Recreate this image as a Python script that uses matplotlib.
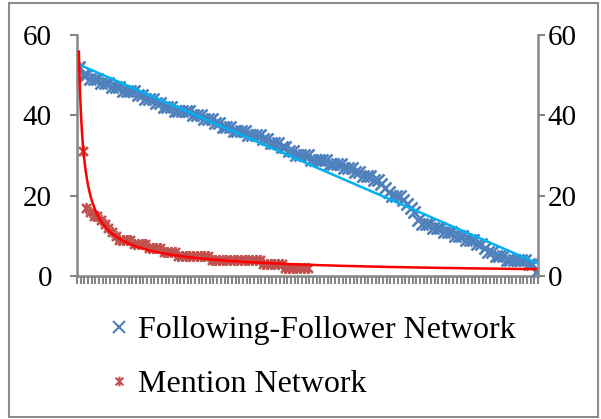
import numpy as np
import matplotlib.pyplot as plt
from matplotlib.path import Path
from matplotlib.patches import Rectangle
from matplotlib.lines import Line2D

plt.rcParams['font.family'] = ['Liberation Serif', 'DejaVu Serif']

# users ranked by degree, value per rank
following = [52, 50, 50, 49, 49, 49, 48, 48, 48, 47, 47, 47, 46, 46, 46, 46, 45, 45, 44, 44,
             44, 43, 43, 42, 42, 42, 41, 41, 41, 41, 41, 40, 40, 40, 39, 39, 39, 38, 38, 37,
             37, 37, 36, 36, 36, 36, 35, 35, 35, 35, 34, 34, 33, 33, 33, 32, 32, 31, 31, 30,
             30, 30, 30, 29, 29, 29, 29, 29, 28, 28, 28, 28, 27, 27, 27, 26, 26, 25, 25, 25,
             24, 24, 23, 22, 21, 20, 20, 20, 19, 18, 17, 16, 14, 13, 13, 13, 12, 12, 12, 11,
             11, 11, 10, 10, 10, 9, 9, 9, 8, 8, 7, 6, 6, 5, 5, 5, 4, 4, 4, 4,
             4, 4, 3, 3, 1]
mention = [52, 31, 17, 16, 15, 15, 14, 13, 12, 11, 10, 9, 9, 9, 9, 8, 8, 8, 8, 7,
           7, 7, 7, 6, 6, 6, 6, 5, 5, 5, 5, 5, 5, 5, 5, 5, 4, 4, 4, 4,
           4, 4, 4, 4, 4, 4, 4, 4, 4, 4, 3, 3, 3, 3, 3, 3, 2, 2, 2, 2,
           2, 2, 2]
labels = ['Following-Follower Network', 'Mention Network']
yticks = [0, 20, 40, 60]

blue = '#4F81BD'
red = '#C0504D'
axis_grey = '#868686'

# asterisk marker: an x with a vertical stroke
star = Path([(-1, -1), (1, 1), (-1, 1), (1, -1), (0, -1.25), (0, 1.25)],
            [Path.MOVETO, Path.LINETO, Path.MOVETO, Path.LINETO, Path.MOVETO, Path.LINETO])

n = len(following)
xf = np.arange(1, n + 1)
xm = np.arange(1, len(mention) + 1)

# trendlines: linear for following, power for mention
k, b = np.polyfit(xf, following, 1)
pb, pa = np.polyfit(np.log(xm), np.log(mention), 1)
xt = np.linspace(1, n, 400)

fig = plt.figure(figsize=(6.01, 4.19), dpi=100)
ax = fig.add_axes([0.1281, 0.3413, 0.7671, 0.5752])

ax.plot(xm, mention, ls='none', marker=star, ms=8, mew=1.9, color=red, zorder=2)
ax.plot(xf, following, ls='none', marker='x', ms=8, mew=1.9, color=blue, zorder=3)
ax.plot(xt, k * xt + b, color='#00B0F0', lw=1.8, zorder=4)
ax.plot(xt, np.exp(pa) * xt ** pb, color='#FF0000', lw=1.8, zorder=4)

ax.set_xlim(0.5, n + 0.5)
ax.set_ylim(0, 60)
ax.set_yticks(yticks)
ax.set_xticks(np.arange(0.5, n + 1, 1))
ax.set_xticklabels([])

for s in ['top', 'right']:
    ax.spines[s].set_visible(False)
for s in ['left', 'bottom']:
    ax.spines[s].set_color(axis_grey)
    ax.spines[s].set_linewidth(1.8)
ax.tick_params(axis='x', length=6, width=1.5, color=axis_grey)
ax.tick_params(axis='y', length=5, width=1.5, color=axis_grey, labelsize=21, pad=13)

ax2 = ax.twinx()
ax2.set_ylim(0, 60)
ax2.set_yticks(yticks)
for s in ['top', 'left', 'bottom']:
    ax2.spines[s].set_visible(False)
ax2.spines['right'].set_color(axis_grey)
ax2.spines['right'].set_linewidth(1.8)
ax2.tick_params(axis='y', length=5, width=1.5, color=axis_grey, labelsize=21, pad=2)

handles = [Line2D([], [], ls='none', marker='x', ms=8, mew=1.5, color=blue),
           Line2D([], [], ls='none', marker=star, ms=7, mew=1.5, color=red)]
fig.legend(handles, labels, loc='upper left', bbox_to_anchor=(0.155, 0.284),
           frameon=False, fontsize=23, handlelength=0.6, handletextpad=0.3,
           labelspacing=0.77, borderpad=0)

fig.patches.append(Rectangle((9 / 601, 2 / 419), 589 / 601, 414 / 419,
                             transform=fig.transFigure, fill=False,
                             edgecolor='#8C8C8C', lw=1.5))

fig.savefig('out.png', dpi=100)
